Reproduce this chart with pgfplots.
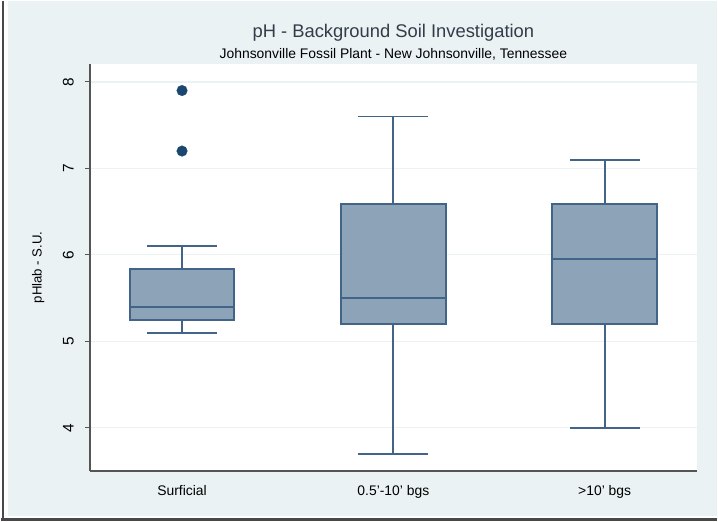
\documentclass[border=0pt]{standalone}
\usepackage{pgfplots}
\pgfplotsset{compat=1.18}
\usepackage{fontspec}
\setmainfont{Liberation Sans}
\definecolor{bgcol}{HTML}{EAF2F3}
\definecolor{boxfill}{HTML}{8DA3B8}
\definecolor{boxedge}{HTML}{426488}
\definecolor{outl}{HTML}{1A476F}
\definecolor{gridc}{HTML}{EAF2F3}
\definecolor{axc}{HTML}{555555}
\definecolor{titc}{HTML}{333D4A}
\begin{document}
\begin{tikzpicture}
\fill[white] (0bp,0bp) rectangle (718bp,523bp);
\fill[bgcol] (7bp,6bp) rectangle (718bp,523bp);
\fill[white] (89bp,51bp) rectangle (698bp,460bp);
\draw[color=axc!85!black, line width=2bp] (2bp,1bp) -- (2bp,523bp);
\draw[color=axc!85!black, line width=3bp] (0bp,2.5bp) -- (718bp,2.5bp);
\node[font=\fontsize{18.5}{21}\selectfont, text=titc] at (393.5bp,491bp) {pH - Background Soil Investigation};
\node[font=\fontsize{14}{16}\selectfont, text=black] at (393.5bp,469.5bp) {Johnsonville Fossil Plant - New Johnsonville, Tennessee};
\begin{axis}[
  at={(89bp,51bp)}, anchor=south west,
  scale only axis, width=609bp, height=409bp,
  xmin=0.565, xmax=3.435, ymin=3.5, ymax=8.21,
  axis x line*=bottom, axis y line*=left,
  axis line style={color=axc, line width=1.3bp},
  xtick={1,2,3},
  xticklabels={Surficial, 0.5'-10' bgs, >10' bgs},
  x tick style={draw=none},
  xticklabel style={font=\fontsize{14}{16}\selectfont, yshift=-6bp},
  ytick={4,5,6,7,8},
  tick align=outside,
  major tick length=5bp,
  y tick style={color=axc, line width=1.1bp},
  yticklabel style={xshift=-8bp, rotate=90, anchor=south, font=\fontsize{15.5}{17}\selectfont},
  /pgf/number format/assume math mode=true,
  ymajorgrids,
  major grid style={color=gridc, line width=1.3bp},
  ylabel={pHlab - S.U.},
  every axis y label/.style={at={(axis description cs:-0.0854,0.5)}, rotate=90, anchor=center, font=\fontsize{13.3}{15}\selectfont},
  unbounded coords=jump,
]
% whiskers and caps
\addplot[draw=boxedge, line width=1.9bp, mark=none] table[row sep=\\] {
x y\\
1 5.25\\ 1 5.1\\ nan nan\\ 0.835 5.1\\ 1.165 5.1\\ nan nan\\
1 5.84\\ 1 6.1\\ nan nan\\ 0.835 6.1\\ 1.165 6.1\\ nan nan\\
2 5.2\\ 2 3.7\\ nan nan\\ 1.835 3.7\\ 2.165 3.7\\ nan nan\\
2 6.59\\ 2 7.6\\ nan nan\\ 1.835 7.6\\ 2.165 7.6\\ nan nan\\
3 5.2\\ 3 4.0\\ nan nan\\ 2.835 4.0\\ 3.165 4.0\\ nan nan\\
3 6.59\\ 3 7.1\\ nan nan\\ 2.835 7.1\\ 3.165 7.1\\
};
% boxes (Q1 to Q3)
\addplot[fill=boxfill, draw=boxedge, line width=1.9bp, mark=none] coordinates {(0.7525,5.25) (1.2475,5.25) (1.2475,5.84) (0.7525,5.84)} --cycle;
\addplot[fill=boxfill, draw=boxedge, line width=1.9bp, mark=none] coordinates {(1.7525,5.2) (2.2475,5.2) (2.2475,6.59) (1.7525,6.59)} --cycle;
\addplot[fill=boxfill, draw=boxedge, line width=1.9bp, mark=none] coordinates {(2.7525,5.2) (3.2475,5.2) (3.2475,6.59) (2.7525,6.59)} --cycle;
% medians
\addplot[draw=boxedge, line width=1.9bp, mark=none] table[row sep=\\] {
x y\\
0.7525 5.4\\ 1.2475 5.4\\ nan nan\\
1.7525 5.5\\ 2.2475 5.5\\ nan nan\\
2.7525 5.95\\ 3.2475 5.95\\
};
% outliers
\addplot[only marks, mark=*, mark size=5.4bp, mark options={fill=outl, draw=outl, line width=0.1bp}] coordinates {(1,7.9) (1,7.2)};
\end{axis}
\end{tikzpicture}
\end{document}
